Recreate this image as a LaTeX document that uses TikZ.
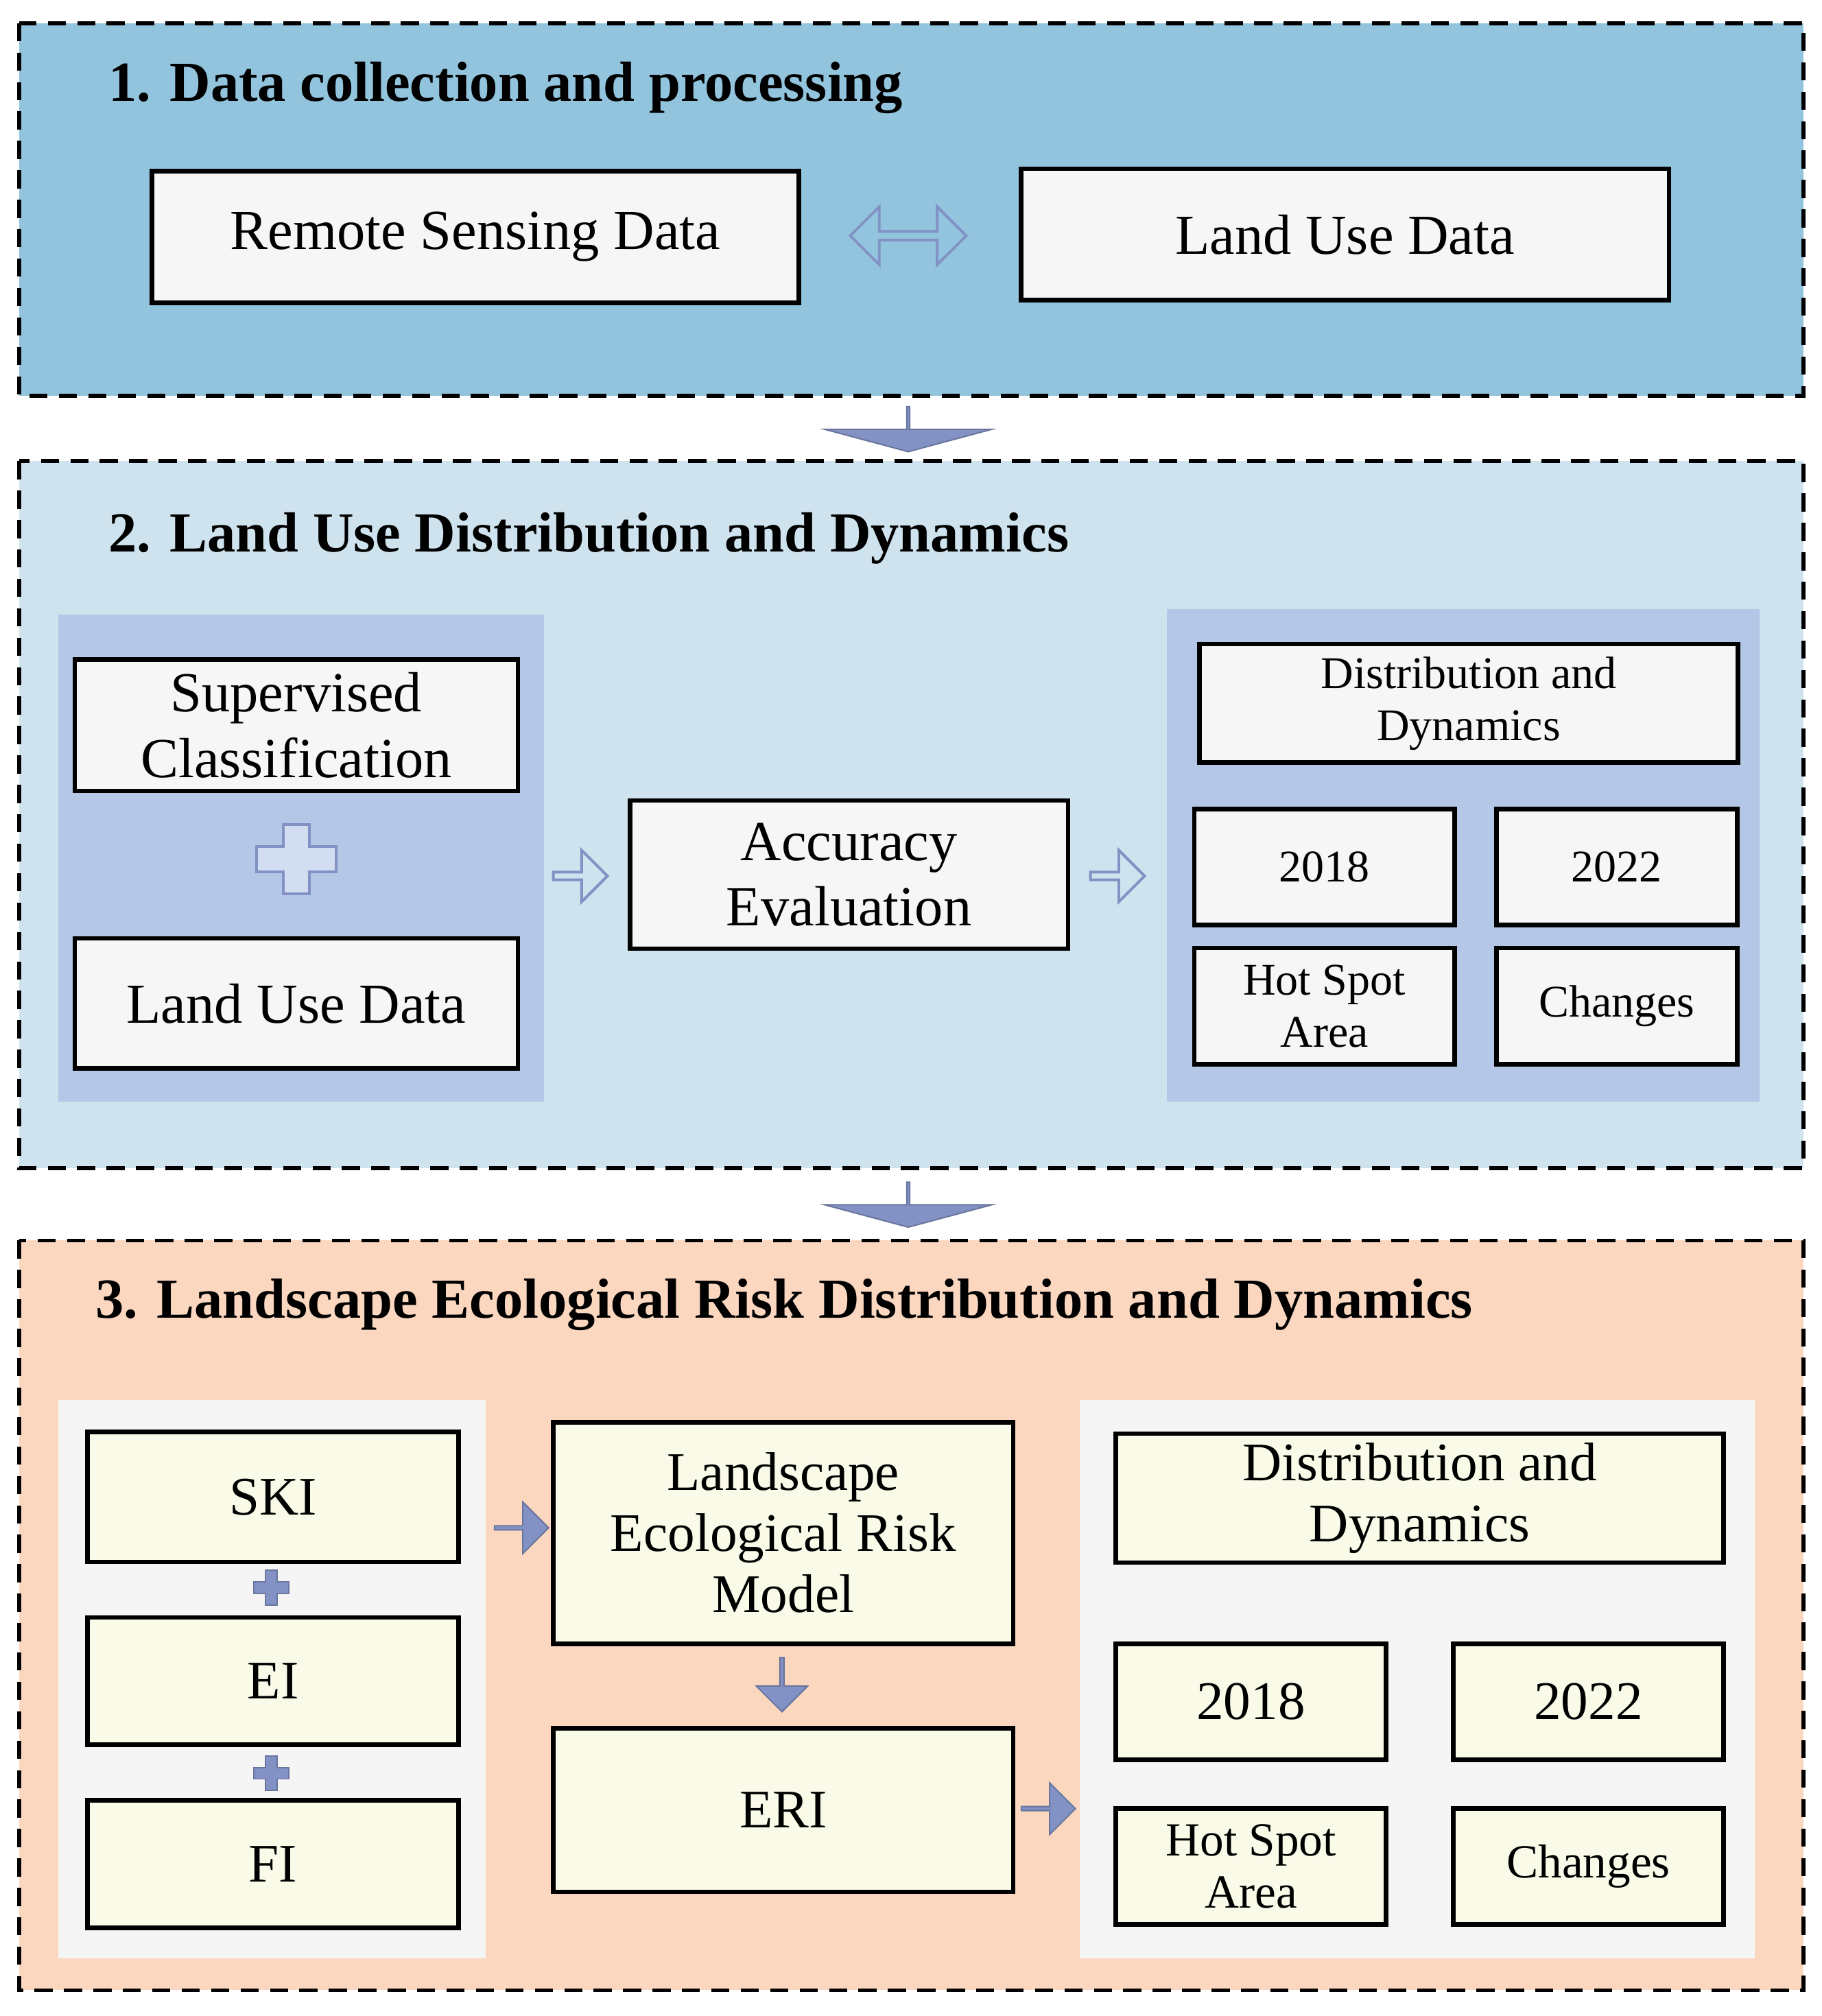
\documentclass[tikz,border=0pt]{standalone}
\usepackage{fontspec}
\setmainfont{Liberation Serif}
\usetikzlibrary{shapes.arrows}
\definecolor{panelA}{RGB}{146,196,222}
\definecolor{panelB}{RGB}{207,227,238}
\definecolor{panelC}{RGB}{251,215,192}
\definecolor{innerB}{RGB}{180,199,231}
\definecolor{innerC}{RGB}{245,245,245}
\definecolor{boxW}{RGB}{246,246,246}
\definecolor{boxC}{RGB}{250,250,233}
\definecolor{arr}{RGB}{130,146,196}
\begin{document}
\begin{tikzpicture}
      [x=0.02cm, y=-0.02cm,
        panel/.style={draw=black, dashed, line width=1.8pt, dash pattern=on 8pt off 5pt},
        title/.style={anchor=west, font=\fontsize{25}{30}\selectfont\bfseries},
        sz/.style 2 args={minimum width=#1*0.02cm, minimum height=#2*0.02cm},
        box/.style={draw=black, line width=2pt, fill=boxW, inner sep=0pt, align=center,
          font=\fontsize{25}{29}\selectfont},
        boxs/.style={box, font=\fontsize{20}{23}\selectfont},
        boxc/.style={box, fill=boxC, font=\fontsize{24}{27}\selectfont},
        hollow/.style={single arrow, draw=arr, line width=1.2pt, fill=none,
          minimum height=0.84cm, minimum width=0.8cm, single arrow head extend=0.12cm, inner sep=0pt},
        solid/.style={single arrow, draw=arr!80!black, line width=0.6pt, fill=arr,
          minimum height=0.84cm, minimum width=0.8cm, single arrow head extend=0.12cm, inner sep=0pt},
        down/.style={solid, shape border rotate=270, minimum height=0.7cm, minimum width=2.6cm,
          single arrow head extend=0.6cm, single arrow tip angle=150}
      ]
      \useasboundingbox (0,0) rectangle (1414,1565);
      % panel 1
      \fill[panelA] (15,18) rectangle (1400,307);
      \draw[panel] (15,18) rectangle (1400,307);
      \node[title] (t1) at (78,68) {1. Data collection and processing};
      \node[box, sz={502}{102}] (rs) at (369,184) {Remote Sensing Data};
      \node[box, sz={503}{102}] (lu) at (1044,182) {Land Use Data};
      \node[double arrow, draw=arr, line width=1.2pt, minimum height=1.8cm, minimum width=0.9cm,
        double arrow head extend=0.12cm, inner sep=0pt] (da) at (705,183) {};
      \node[down] (d1) at (705,333) {};
      % panel 2
      \fill[panelB] (15,358) rectangle (1400,907);
      \draw[panel] (15,358) rectangle (1400,907);
      \node[title] (t2) at (78,418) {2. Land Use Distribution and Dynamics};
      \fill[innerB] (45,477) rectangle (422,855);
      \fill[innerB] (906,473) rectangle (1366,855);
      \node[box, sz={344}{102}] (sc) at (230,563) {Supervised\\Classification};
      \node[box, sz={344}{101}] (lu2) at (230,779) {Land Use Data};
      \draw[arr, line width=1.2pt, fill=innerB!60!white] (220,640) -- (240,640) -- (240,657) -- (261,657)
        -- (261,677) -- (240,677) -- (240,694) -- (220,694) -- (220,677) -- (199,677) -- (199,657)
        -- (220,657) -- cycle;
      \node[box, sz={340}{115}] (ae) at (659,679) {Accuracy\\Evaluation};
      \node[hollow] (h1) at (449,680) {};
      \node[hollow] (h2) at (866,680) {};
      \node[boxs, sz={418}{92}] (dd2) at (1140,546) {Distribution and\\Dynamics};
      \node[boxs, sz={202}{90}] (a18) at (1028,673) {2018};
      \node[boxs, sz={187}{90}] (a22) at (1255,673) {2022};
      \node[boxs, sz={202}{90}] (hs2) at (1028,781) {Hot Spot\\Area};
      \node[boxs, sz={187}{90}] (ch2) at (1255,781) {Changes};
      \node[down] (d2) at (705,935) {};
      % panel 3
      \fill[panelC] (15,963) rectangle (1400,1545);
      \draw[panel] (15,963) rectangle (1400,1545);
      \node[title] (t3) at (68,1013) {3. Landscape Ecological Risk Distribution and Dynamics};
      \fill[innerC] (45,1087) rectangle (377,1520);
      \fill[innerC] (838,1087) rectangle (1362,1520);
      \node[boxc, sz={288}{101}] (ski) at (212,1162) {SKI};
      \node[boxc, sz={288}{99}] (ei) at (212,1305) {EI};
      \node[boxc, sz={288}{99}] (fi) at (212,1447) {FI};
      \foreach \y in {1233,1377}
        \draw[arr!80!black, line width=0.6pt, fill=arr] (206,\y-14) -- (215,\y-14) -- (215,\y-5) -- (224,\y-5)
          -- (224,\y+4) -- (215,\y+4) -- (215,\y+13) -- (206,\y+13) -- (206,\y+4) -- (197,\y+4)
          -- (197,\y-5) -- (206,\y-5) -- cycle;
      \node[boxc, sz={357}{172}] (lm) at (608,1190) {Landscape\\Ecological Risk\\Model};
      \node[boxc, sz={357}{127}] (eri) at (608,1405) {ERI};
      \node[solid] (s1) at (404,1186) {};
      \node[solid, shape border rotate=270] (s2) at (607,1307) {};
      \node[solid] (s3) at (813,1404) {};
      \node[boxc, sz={472}{100}] (dd3) at (1102,1163) {Distribution and\\Dynamics};
      \node[boxc, sz={210}{90}] (b18) at (971,1321) {2018};
      \node[boxc, sz={210}{90}] (b22) at (1233,1321) {2022};
      \node[boxc, sz={210}{90}, font=\fontsize{21}{23}\selectfont] (hs3) at (971,1449) {Hot Spot\\Area};
      \node[boxc, sz={210}{90}, font=\fontsize{21}{23}\selectfont] (ch3) at (1233,1449) {Changes};
    \end{tikzpicture}
\end{document}
